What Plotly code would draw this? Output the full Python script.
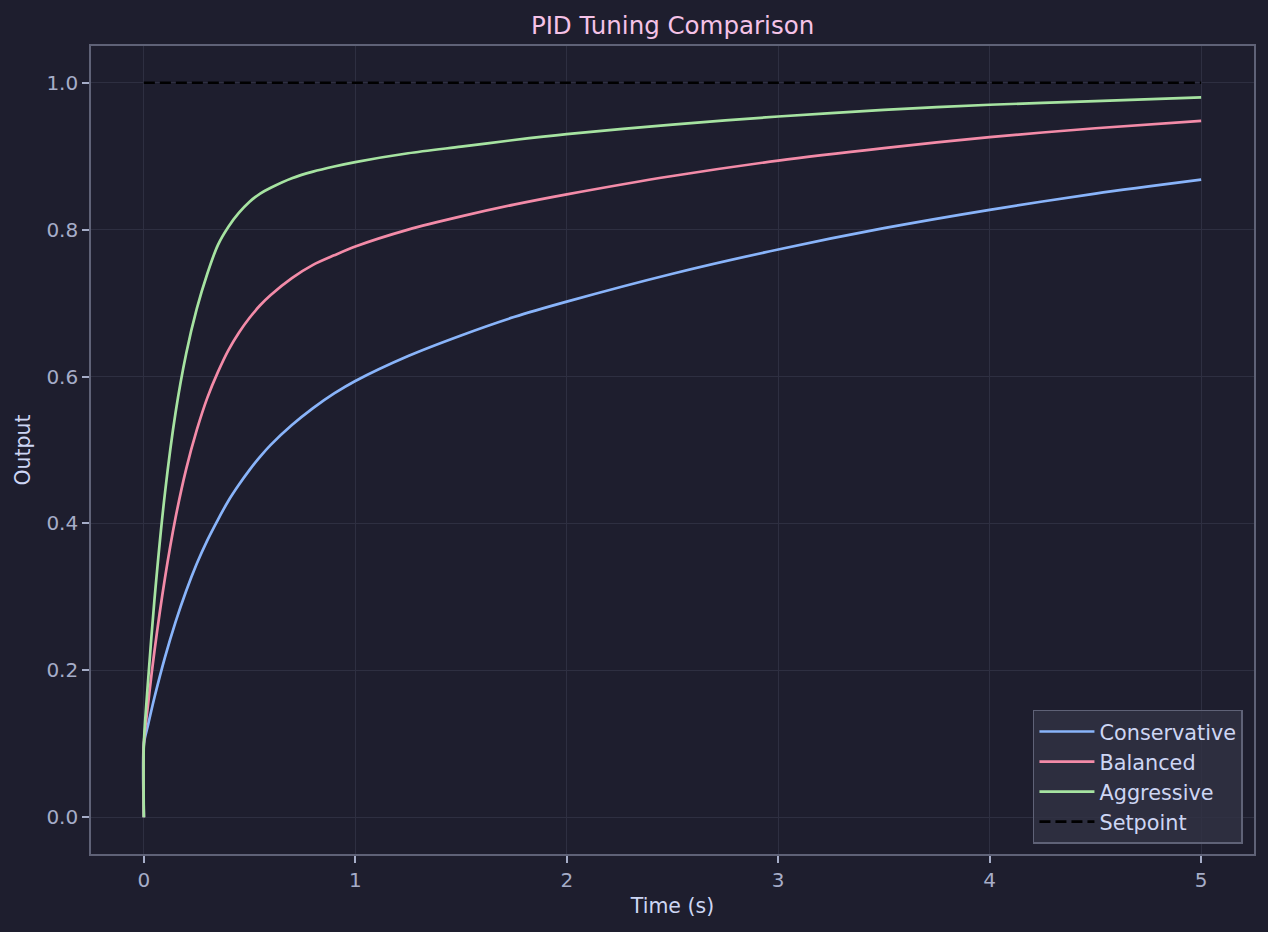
import plotly.graph_objects as go

# ---- data ----
time_s = [0.0, 0.0, 0.02, 0.05, 0.1, 0.15, 0.2, 0.25, 0.3, 0.35, 0.4, 0.45, 0.5, 0.55,
          0.6, 0.7, 0.8, 0.9, 1.0, 1.25, 1.5, 1.75, 2.0, 2.5, 3.0, 3.5, 4.0, 4.5, 5.0]

conservative = [0.0, 0.100, 0.126, 0.163, 0.218, 0.266, 0.308, 0.345, 0.377, 0.405,
                0.431, 0.453, 0.473, 0.491, 0.507, 0.534, 0.557, 0.577, 0.594, 0.628,
                0.656, 0.681, 0.702, 0.740, 0.773, 0.802, 0.827, 0.849, 0.868]

balanced = [0.0, 0.100, 0.154, 0.226, 0.326, 0.408, 0.474, 0.527, 0.571, 0.606,
            0.636, 0.660, 0.680, 0.697, 0.711, 0.734, 0.752, 0.765, 0.777, 0.800,
            0.818, 0.834, 0.848, 0.873, 0.894, 0.911, 0.926, 0.938, 0.948]

aggressive = [0.0, 0.100, 0.186, 0.296, 0.442, 0.551, 0.631, 0.692, 0.740, 0.779,
              0.804, 0.823, 0.838, 0.849, 0.857, 0.870, 0.879, 0.886, 0.892, 0.904,
              0.913, 0.922, 0.930, 0.943, 0.954, 0.963, 0.970, 0.975, 0.980]

setpoint_t = [0.0, 5.0]
setpoint_v = [1.0, 1.0]

series_names = ["Conservative", "Balanced", "Aggressive"]
series_colors = ["#89b4fa", "#f38ba8", "#a6e3a1"]

BG = "#1e1e2e"
SPINE = "#5f6277"
GRID = "#2e2f41"
TICK = "#a6adc8"
LABEL = "#cdd6f4"
FONT = "DejaVu Sans"

fig = go.Figure()
for name, vals, col in zip(series_names, [conservative, balanced, aggressive], series_colors):
    fig.add_trace(go.Scatter(x=time_s, y=vals, mode="lines", name=name,
                             line=dict(color=col, width=2.7, shape="spline", smoothing=0.8)))
fig.add_trace(go.Scatter(x=setpoint_t, y=setpoint_v, mode="lines", name="Setpoint",
                         line=dict(color="#000000", width=2.7, dash="11px,5px")))

axis_common = dict(
    showline=True, mirror=True, linecolor=SPINE, linewidth=1.6,
    showgrid=True, gridcolor=GRID, gridwidth=1.2, zeroline=False,
    ticks="outside", ticklen=7, tickwidth=1.5, tickcolor=TICK,
    tickfont=dict(family=FONT, size=20, color=TICK),
)

fig.update_layout(
    width=1268, height=932,
    paper_bgcolor=BG, plot_bgcolor=BG,
    margin=dict(l=91, r=14, t=46, b=78),
    font=dict(family=FONT, color=LABEL),
    title=dict(text="PID Tuning Comparison", x=0.5304, xanchor="center",
               yref="container", y=1 - 25 / 932, yanchor="middle",
               font=dict(family=FONT, size=24.5, color="#f5c2e7")),
    xaxis=dict(range=[-0.25, 5.25], tickvals=[0, 1, 2, 3, 4, 5],
               title=dict(text="Time (s)", standoff=8,
                          font=dict(family=FONT, size=20.5, color=LABEL)),
               **axis_common),
    yaxis=dict(range=[-0.05, 1.05], tickvals=[0, 0.2, 0.4, 0.6, 0.8, 1.0],
               tickformat=".1f",
               title=dict(text="Output", standoff=10,
                          font=dict(family=FONT, size=20.5, color=LABEL)),
               **axis_common),
    legend=dict(x=0.9905, xanchor="right", y=0.0124, yanchor="bottom",
                bgcolor="rgba(49,50,68,0.8)", bordercolor=SPINE, borderwidth=1.5,
                font=dict(family=FONT, size=20.8, color=LABEL),
                tracegroupgap=0, itemwidth=55),
    showlegend=True,
)

fig.write_html("out.html")
